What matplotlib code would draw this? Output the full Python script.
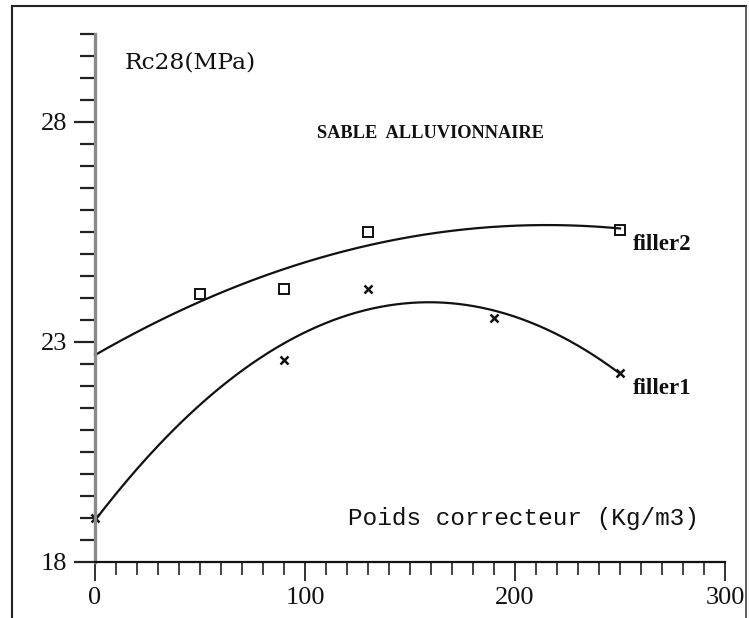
#!/usr/bin/env python
# -*- coding: utf-8 -*-
import numpy as np
import matplotlib
matplotlib.use('Agg')
import matplotlib.pyplot as plt
from matplotlib.ticker import MultipleLocator, FixedLocator

# Resistance a 28 jours selon le dosage en correcteur (sable alluvionnaire)
filler1_x = [0, 90, 130, 190, 250]
filler1_y = [19.0, 22.6, 24.2, 23.55, 22.3]
filler2_x = [50, 90, 130, 250]
filler2_y = [24.1, 24.2, 25.5, 25.55]

x_ticks = [0, 100, 200, 300]
y_ticks = [18, 23, 28]

W, H = 749, 618
fig = plt.figure(figsize=(W / 100., H / 100.), dpi=100)
fig.patch.set_facecolor('white')

def px(x, y):
    # position en pixels -> fraction de la figure
    return x / float(W), 1 - y / float(H)

l, t = px(95, 34)
r, b = px(725, 562)
ax = fig.add_axes([l, b, r - l, t - b])
ax.set_xlim(0, 300)
ax.set_ylim(18, 30)

for s in ['top', 'right']:
    ax.spines[s].set_visible(False)
ax.spines['left'].set_color('#8a8a8a')
ax.spines['left'].set_linewidth(2.4)
ax.spines['bottom'].set_color('#111111')
ax.spines['bottom'].set_linewidth(1.6)

ax.xaxis.set_major_locator(FixedLocator(x_ticks))
ax.xaxis.set_minor_locator(MultipleLocator(10))
ax.yaxis.set_major_locator(FixedLocator(y_ticks))
ax.yaxis.set_minor_locator(MultipleLocator(0.5))
ax.tick_params(axis='x', which='major', direction='out', length=14, width=1.3, color='#222222', pad=4)
ax.tick_params(axis='x', which='minor', direction='out', length=9.5, width=1.2, color='#222222')
ax.tick_params(axis='y', which='major', direction='out', length=15, width=1.6, color='#222222', pad=5)
ax.tick_params(axis='y', which='minor', direction='out', length=11, width=1.6, color='#222222')
for lab in ax.get_xticklabels() + ax.get_yticklabels():
    lab.set_fontfamily('Liberation Serif')
    lab.set_fontsize(19)
    lab.set_color('#111111')

# courbes de tendance (ajustement parabolique)
xx = np.linspace(0, 250, 200)
p1 = np.polyfit(filler1_x, filler1_y, 2)
p2 = np.polyfit(filler2_x, filler2_y, 2)
ax.plot(xx, np.polyval(p1, xx), color='#111111', lw=1.6, clip_on=False)
ax.plot(xx, np.polyval(p2, xx), color='#111111', lw=1.6, clip_on=False)

ax.plot(filler2_x, filler2_y, 's', ms=7.5, mfc='none', mec='#111111', mew=1.4, clip_on=False)
ax.plot(filler1_x, filler1_y, 'x', ms=5.5, mec='#111111', mew=1.8, clip_on=False)

# textes
fig.text(*px(125, 62), 'Rc28(MPa)', family='DejaVu Serif', fontsize=16.8,
         va='center', ha='left', color='#111111')
fig.text(*px(317, 134), 'SABLE  ALLUVIONNAIRE', family='Liberation Serif', fontsize=13.2,
         weight='bold', va='center', ha='left', color='#111111')
fig.text(*px(348, 518), 'Poids correcteur (Kg/m3)', family='Liberation Mono', fontsize=17.6,
         va='center', ha='left', color='#111111')
fig.text(*px(633, 244), 'filler2', family='Liberation Serif', fontsize=16.5,
         weight='bold', va='center', ha='left', color='#111111')
fig.text(*px(633, 389), 'filler1', family='Liberation Serif', fontsize=16.5,
         weight='bold', va='center', ha='left', color='#111111')

# cadre
x0, y0 = px(12, 6)
x1, _ = px(746, 6)
fig.add_artist(plt.Line2D([x0, x1], [y0, y0], color='#222222', lw=1.5))
fig.add_artist(plt.Line2D([x0, x0], [y0, 0], color='#222222', lw=1.5))
fig.add_artist(plt.Line2D([x1, x1], [y0, 0], color='#444444', lw=1.2))

fig.savefig('out.png', dpi=100)
